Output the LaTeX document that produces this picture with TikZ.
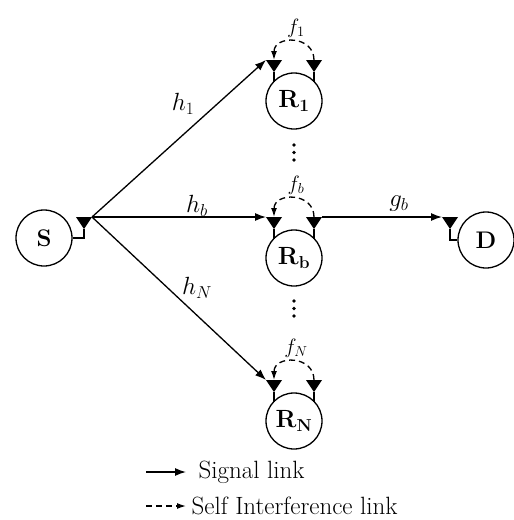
\documentclass[tikz,border=0pt]{standalone}
\usepackage{xcolor}
\usepackage{tikz}
\usetikzlibrary{arrows.meta, positioning}

\begin{document}
\begin{tikzpicture}
	[
		x=1pt, y=-1pt,
		line width=1.3pt,
		term/.style={circle, draw, minimum size=56pt, inner sep=0pt, font=\fontsize{24}{28}\selectfont\bfseries},
		relay/.style={circle, draw, minimum size=56pt, inner sep=0pt, font=\fontsize{23}{27}\selectfont},
		sig/.style={-{Latex[length=11pt,width=8pt]}},
		selfint/.style={dash pattern=on 6pt off 4pt, -{Latex[length=9pt,width=6pt]}},
		lbl/.style={font=\fontsize{24}{28}\selectfont},
		flbl/.style={font=\fontsize{20}{24}\selectfont},
		legtext/.style={anchor=west, inner sep=0pt, font=\fontsize{25}{30}\selectfont},
		ant/.pic={\fill (-8,-12) -- (8,-12) -- (0,0) -- cycle;}
	]
	\useasboundingbox (0,0) rectangle (514,520);

	% source and destination
	\node[term] (s) at (44,238) {S};
	\pic at (84,229) {ant};
	\draw (84,229) |- (s.east);
	\coordinate (sa) at (92,217);

	\node[term] (d) at (486,240) {D};
	\pic at (450,229) {ant};
	\draw (450,229) |- (d.west);
	\coordinate (da) at (442,217);

	% relays
	\foreach \n/\y in {1/101, b/258, N/421}
	{
		\node[relay] (r\n) at (294,\y) {$\mathbf{R}_{\mathbf{\n}}$};
		\pic at (274,{\y-29}) {ant};
		\pic at (314,{\y-29}) {ant};
		\draw (274,{\y-29}) -- (274,{\y-19.5});
		\draw (314,{\y-29}) -- (314,{\y-19.5});
		\coordinate (in\n) at (266,{\y-41});
		\coordinate (out\n) at (322,{\y-41});
		\coordinate (lt\n) at (274,{\y-41});
		\coordinate (rt\n) at (314,{\y-41});
		\draw[selfint] (rt\n) .. controls +(0,-25) and +(0,-25) .. (lt\n);
		\node[flbl] (f\n) at (296,{\y-73}) {$f_{\n}$};
	}

	% links
	\draw[sig] (sa) -- (in1);
	\draw[sig] (sa) -- (inb);
	\draw[sig] (sa) -- (inN);
	\draw[sig] (outb) -- (da);

	\node[lbl] (h1) at (183,104) {$h_1$};
	\node[lbl] (hb) at (197,206) {$h_b$};
	\node[lbl] (hN) at (197,288) {$h_N$};
	\node[lbl] (gb) at (399,204) {$g_b$};

	% dots
	\foreach \d in {145,152.5,160,301,308.5,316}
		\fill (294,\d) circle (1.8);

	% legend
	\node[legtext] (lsig) at (198,472) {Signal link};
	\node[legtext] (lsi) at (191,506) {Self Interference link};
	\draw[sig] (146,472) -- ([xshift=-12pt]lsig.west);
	\draw[selfint] (146,506) -- ([xshift=-5pt]lsi.west);
\end{tikzpicture}
\end{document}
